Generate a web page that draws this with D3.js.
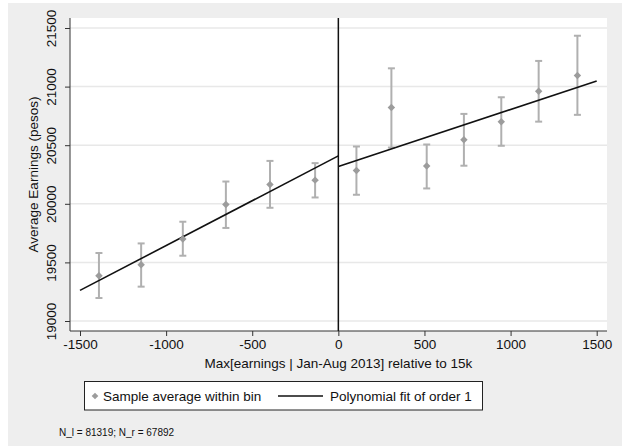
<!DOCTYPE html>
<html lang="en">
<head>
    <meta charset="UTF-8">
    <title>RD plot earnings</title>
    <script src="https://d3js.org/d3.v7.min.js"></script>
    <style>
      body { margin: 0; background: #fff; }
      text { font-family: Arial, "Liberation Sans", sans-serif; }
    </style>
</head>
<body>
<div class="chart"></div>
<script>
  // bins (relative to 15k)
  const binX     = [-1390, -1145, -903, -653, -397, -135, 105, 308, 513, 729, 946, 1163, 1388];
  const binMean  = [19387, 19480, 19699, 19995, 20165, 20202, 20284, 20821, 20322, 20546, 20701, 20960, 21094];
  const binLow   = [19196, 19293, 19557, 19794, 19966, 20054, 20077, 20480, 20131, 20325, 20495, 20701, 20759];
  const binHigh  = [19580, 19662, 19847, 20190, 20366, 20347, 20489, 21156, 20506, 20767, 20909, 21219, 21434];
  // linear fits each side
  const fitLeft  = [{x: -1500, y: 19261}, {x: 0, y: 20409}];
  const fitRight = [{x: 0, y: 20318}, {x: 1500, y: 21048}];
  const xTicks = [-1500, -1000, -500, 0, 500, 1000, 1500];
  const yTicks = [19000, 19500, 20000, 20500, 21000, 21500];

  const W = 622, H = 447;
  const plot = {l: 70, t: 18, r: 607, b: 331};

  const svg = d3.select('.chart').append('svg')
    .attr('width', W).attr('height', H);

  svg.append('rect').attr('x', 8).attr('y', 3).attr('width', W - 8).attr('height', H - 4)
    .attr('fill', '#eeeeee');
  svg.append('rect').attr('x', plot.l).attr('y', plot.t)
    .attr('width', plot.r - plot.l).attr('height', plot.b - plot.t).attr('fill', '#ffffff');

  const x = d3.scaleLinear().domain([-1500, 1500]).range([80, 596.7]);
  const y = d3.scaleLinear().domain([19000, 21500]).range([321, 28]);

  // grid
  svg.append('g').selectAll('line').data(yTicks).join('line')
    .attr('x1', plot.l).attr('x2', plot.r)
    .attr('y1', d => y(d)).attr('y2', d => y(d))
    .attr('stroke', '#e8e8e8').attr('stroke-width', 1.5);

  // axes
  const yAxis = d3.axisLeft(y).tickValues(yTicks).tickSize(5).tickSizeOuter(0).tickFormat(d3.format('d'));
  const gy = svg.append('g').attr('transform', `translate(${plot.l} 0)`).call(yAxis);
  gy.select('.domain').attr('d', `M0,${plot.t}V${plot.b}`).attr('stroke', '#333');
  gy.selectAll('.tick line').attr('stroke', '#333');
  gy.selectAll('.tick text')
    .attr('transform', 'rotate(-90)')
    .attr('x', 0).attr('y', -18).attr('dy', '0')
    .attr('text-anchor', 'middle')
    .style('font-size', '13.5px').attr('fill', '#111')
    .attr('dominant-baseline', 'middle');

  const xAxis = d3.axisBottom(x).tickValues(xTicks).tickSize(5).tickSizeOuter(0).tickFormat(d3.format('d'));
  const gx = svg.append('g').attr('transform', `translate(0 ${plot.b})`).call(xAxis);
  gx.select('.domain').attr('d', `M${plot.l},0H${plot.r}`).attr('stroke', '#333');
  gx.selectAll('.tick line').attr('stroke', '#333');
  gx.selectAll('.tick text').attr('y', 8).style('font-size', '13.5px').attr('fill', '#111')
    .text(d => d < 0 ? '-' + Math.abs(d) : d);

  // cutoff
  svg.append('line').attr('x1', x(0)).attr('x2', x(0)).attr('y1', plot.t).attr('y2', plot.b)
    .attr('stroke', '#111').attr('stroke-width', 1.5);

  // error bars
  const eb = svg.append('g').attr('stroke', '#b0b0b0').attr('stroke-width', 2);
  binX.forEach((bx, i) => {
    eb.append('line').attr('x1', x(bx)).attr('x2', x(bx)).attr('y1', y(binLow[i])).attr('y2', y(binHigh[i]));
    eb.append('line').attr('x1', x(bx) - 3.5).attr('x2', x(bx) + 3.5).attr('y1', y(binLow[i])).attr('y2', y(binLow[i]));
    eb.append('line').attr('x1', x(bx) - 3.5).attr('x2', x(bx) + 3.5).attr('y1', y(binHigh[i])).attr('y2', y(binHigh[i]));
  });

  // fits
  const line = d3.line().x(d => x(d.x)).y(d => y(d.y));
  [fitLeft, fitRight].forEach(f => svg.append('path').attr('d', line(f))
    .attr('fill', 'none').attr('stroke', '#111').attr('stroke-width', 1.6));

  // markers (square turned 45deg)
  const diamond = d3.symbol().type(d3.symbolSquare).size(28);
  svg.append('g').selectAll('path').data(binX).join('path')
    .attr('d', diamond)
    .attr('transform', (d, i) => `translate(${x(d)} ${y(binMean[i])}) rotate(45)`)
    .attr('fill', '#9c9c9c');

  // axis titles
  svg.append('text').attr('transform', `translate(34 ${(plot.t + plot.b) / 2}) rotate(-90)`)
    .attr('text-anchor', 'middle').attr('dominant-baseline', 'middle')
    .style('font-size', '13.5px').attr('fill', '#111').text('Average Earnings (pesos)');
  svg.append('text').attr('x', x(0)).attr('y', 368)
    .attr('text-anchor', 'middle').style('font-size', '13.5px').attr('fill', '#111')
    .text('Max[earnings | Jan-Aug 2013] relative to 15k');

  // legend
  const lg = svg.append('g');
  lg.append('rect').attr('x', 84.5).attr('y', 381.5).attr('width', 398).attr('height', 28.5)
    .attr('fill', '#fff').attr('stroke', '#222').attr('stroke-width', 1);
  lg.append('path').attr('d', d3.symbol().type(d3.symbolSquare).size(22))
    .attr('transform', 'translate(95 396) rotate(45)').attr('fill', '#9c9c9c');
  lg.append('text').attr('x', 103).attr('y', 400.5).style('font-size', '13.5px').attr('fill', '#111')
    .text('Sample average within bin');
  lg.append('line').attr('x1', 278).attr('x2', 323).attr('y1', 396).attr('y2', 396)
    .attr('stroke', '#111').attr('stroke-width', 1.6);
  lg.append('text').attr('x', 330).attr('y', 400.5).style('font-size', '13.5px').attr('fill', '#111')
    .text('Polynomial fit of order 1');

  svg.append('text').attr('x', 59).attr('y', 435.5).style('font-size', '10px').attr('fill', '#111')
    .text('N_l = 81319; N_r = 67892');
</script>
</body>
</html>
